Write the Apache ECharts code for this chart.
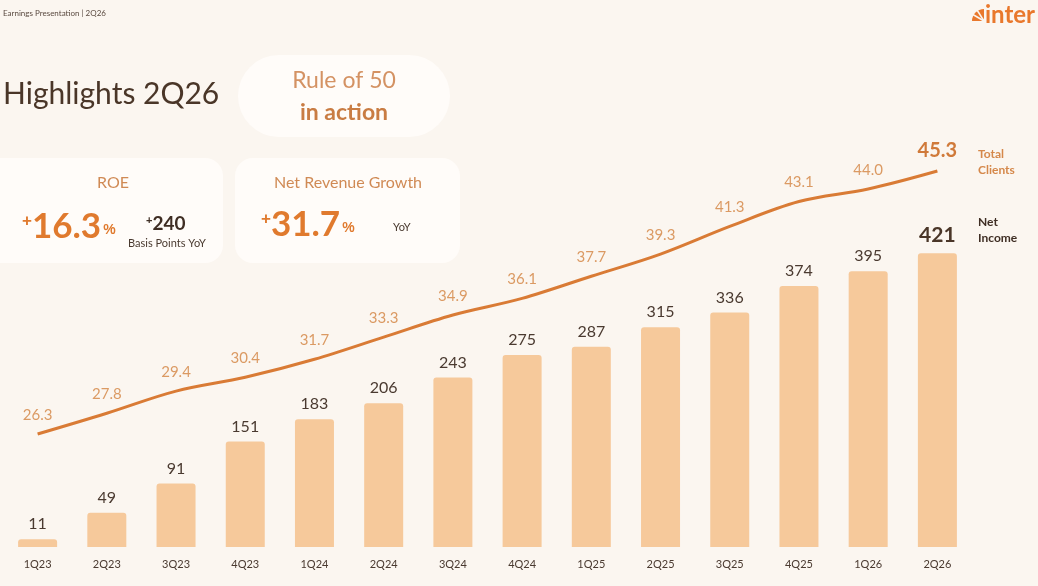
<!DOCTYPE html>
<html><head><meta charset="utf-8">
<script src="https://cdn.jsdelivr.net/npm/echarts@6/dist/echarts.min.js"></script>
<style>html,body{margin:0;padding:0;background:#FBF6F0;}#c{width:1038px;height:586px;}</style>
</head><body><div id="c"></div>
<script>
const categories = ['1Q23','2Q23','3Q23','4Q23','1Q24','2Q24','3Q24','4Q24','1Q25','2Q25','3Q25','4Q25','1Q26','2Q26'];
const netIncome = [11,49,91,151,183,206,243,275,287,315,336,374,395,421];
const totalClients = [26.3,27.8,29.4,30.4,31.7,33.3,34.9,36.1,37.7,39.3,41.3,43.1,44.0,45.3];

const FONT = 'Lato';
const chart = echarts.init(document.getElementById('c'));
const last = categories.length - 1;

chart.setOption({
  backgroundColor: '#FBF6F0',
  textStyle: {fontFamily: FONT},
  grid: {left: 3, right: 66, top: 150, bottom: 39},
  xAxis: {
    type: 'category', data: categories,
    axisLine: {show: false}, axisTick: {show: false},
    axisLabel: {color: '#4A3A30', fontSize: 11, margin: 12, fontFamily: FONT}
  },
  yAxis: [
    {type: 'value', min: 0, max: 568.8, show: false, splitLine: {show: false}},
    {type: 'value', min: 18.14, max: 46.82, show: false, splitLine: {show: false}}
  ],
  series: [
    {
      type: 'bar', data: netIncome.map((v, i) => i === last ? {value: v, label: {fontWeight: 'bold', fontSize: 21, color: '#4A3628'}} : v),
      barWidth: 39, yAxisIndex: 0,
      itemStyle: {color: '#F6C99B', borderRadius: [3,3,0,0]},
      label: {show: true, position: 'top', distance: 7, color: '#4A3A30', fontSize: 16, fontFamily: FONT}
    },
    {
      type: 'line', data: totalClients.map((v, i) => i === last ? {value: v, label: {fontWeight: 'bold', fontSize: 20, color: '#D07A3A', distance: 10}} : v),
      yAxisIndex: 1, smooth: 0.35, symbol: 'circle', symbolSize: 1, showSymbol: true,
      itemStyle: {color: 'rgba(0,0,0,0)'},
      lineStyle: {color: '#D97B35', width: 3},
      label: {show: true, position: 'top', distance: 11, color: '#DB9A63', fontSize: 15, fontFamily: FONT,
        formatter: p => Number(p.value).toFixed(1)}
    }
  ],
  graphic: [
    {type: 'text', left: 3, top: 9, style: {text: 'Earnings Presentation | 2Q26', fontSize: 8, fill: '#5A4A40', fontFamily: FONT}},
    {type: 'sector', shape: {cx: 984, cy: 21, r: 12, r0: 0, startAngle: Math.PI, endAngle: Math.PI * 1.5}, style: {fill: '#E9782C'}},
    {type: 'line', shape: {x1: 972, y1: 14, x2: 984, y2: 21}, style: {stroke: '#FBF6F0', lineWidth: 1.5}},
    {type: 'line', shape: {x1: 977, y1: 10, x2: 984, y2: 21}, style: {stroke: '#FBF6F0', lineWidth: 1.5}},
    {type: 'text', left: 985, top: 3, style: {text: 'inter', fontSize: 24, fontWeight: 'bold', fill: '#E9782C', fontFamily: FONT}},
    {type: 'text', left: 3, top: 79, style: {text: 'Highlights 2Q26', fontSize: 30, fontWeight: 'normal', fill: '#4A3628', fontFamily: FONT}},
    {type: 'rect', shape: {x: 238, y: 55, width: 212, height: 82, r: 41}, style: {fill: '#FFFCF9'}},
    {type: 'text', x: 344, y: 81, style: {text: 'Rule of 50', fontSize: 23, fill: '#D49263', align: 'center', verticalAlign: 'middle', fontFamily: FONT}},
    {type: 'text', x: 344, y: 113, style: {text: 'in action', fontSize: 23, fontWeight: 'bold', fill: '#C97C43', align: 'center', verticalAlign: 'middle', fontFamily: FONT}},
    {type: 'rect', shape: {x: -20, y: 158, width: 243, height: 105, r: 18}, style: {fill: '#FFFCF9'}},
    {type: 'rect', shape: {x: 235, y: 158, width: 225, height: 105, r: 18}, style: {fill: '#FFFCF9'}},
    {type: 'text', x: 113, y: 183, style: {text: 'ROE', fontSize: 16, fill: '#D08A55', align: 'center', verticalAlign: 'middle', fontFamily: FONT}},
    {type: 'text', x: 348, y: 183, style: {text: 'Net Revenue Growth', fontSize: 16, fill: '#D08A55', align: 'center', verticalAlign: 'middle', fontFamily: FONT}},
    {type: 'text', x: 22, y: 227, style: {
      text: '{s|+}{b|16.3}{p|%}', verticalAlign: 'middle',
      rich: {s: {fontSize: 17, fontWeight: 'bold', fill: '#E07A2E', padding: [0,0,12,0]}, b: {fontSize: 35, fontWeight: 'bold', fill: '#E07A2E', fontFamily: FONT}, p: {fontSize: 14, fontWeight: 'bold', fill: '#E07A2E', padding: [6,0,0,2]}}
    }},
    {type: 'text', x: 146, y: 224, style: {text: '{s|+}{b|240}', verticalAlign: 'middle', rich: {s: {fontSize: 11, fontWeight: 'bold', fill: '#3F2E24', padding: [0,0,6,0]}, b: {fontSize: 19, fontWeight: 'bold', fill: '#3F2E24', fontFamily: FONT}}}},
    {type: 'text', x: 128, y: 243, style: {text: 'Basis Points YoY', fontSize: 11, fill: '#4A3A30', verticalAlign: 'middle', fontFamily: FONT}},
    {type: 'text', x: 261, y: 225, style: {
      text: '{s|+}{b|31.7}{p|%}', verticalAlign: 'middle',
      rich: {s: {fontSize: 17, fontWeight: 'bold', fill: '#E07A2E', padding: [0,0,12,0]}, b: {fontSize: 35, fontWeight: 'bold', fill: '#E07A2E', fontFamily: FONT}, p: {fontSize: 14, fontWeight: 'bold', fill: '#E07A2E', padding: [6,0,0,2]}}
    }},
    {type: 'text', x: 393, y: 227, style: {text: 'YoY', fontSize: 11, fill: '#4A3A30', verticalAlign: 'middle', fontFamily: FONT}},
    {type: 'text', x: 978, y: 146, style: {text: 'Total\nClients', fontSize: 12, lineHeight: 16, fontWeight: 'bold', fill: '#D5884A', fontFamily: FONT}},
    {type: 'text', x: 978, y: 214, style: {text: 'Net\nIncome', fontSize: 12, lineHeight: 16, fontWeight: 'bold', fill: '#3F2E24', fontFamily: FONT}}
  ]
});
</script></body></html>
